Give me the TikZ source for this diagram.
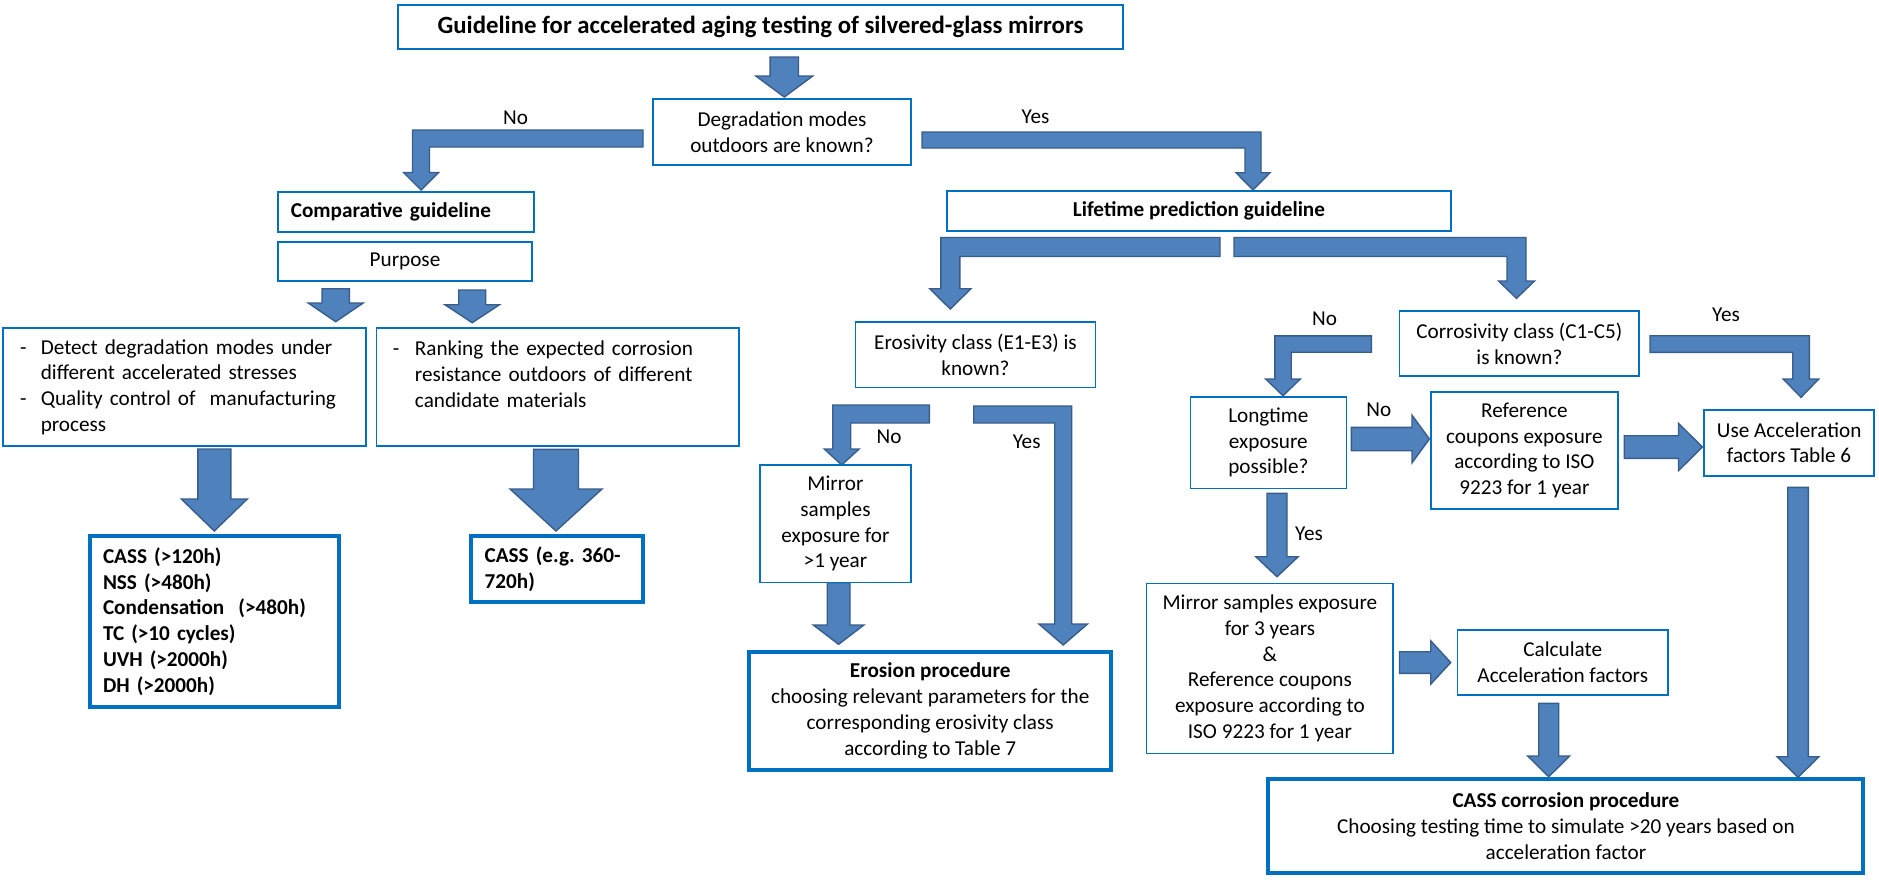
\documentclass[tikz,border=0pt]{standalone}
\usepackage{fontspec}
\setmainfont{Carlito}
\frenchspacing
\definecolor{boxblue}{RGB}{0,112,192}
\definecolor{arrfill}{RGB}{79,129,189}
\definecolor{arrline}{RGB}{56,93,138}
\newcommand{\basefont}{\fontsize{10.6}{12.85}\selectfont\frenchspacing}
\newcommand{\titlefont}{\fontsize{12.4}{15}\selectfont\bfseries}
\newcommand{\dsh}[1]{\makebox[#1][l]{-}}
% box: [opts]{name}{x1}{y1}{x2}{y2}{text}
\newcommand{\bx}[7][]{\node[box,#1,minimum width={(#5-#3)*0.5pt},minimum height={(#6-#4)*0.5pt}] (#2) at ({(#3+#5)/2},{(#4+#6)/2}) {#7};}
% vertical block arrow: xc, ytop, ytip, shaft half width, head half width, head length
\newcommand{\varr}[6]{\filldraw[arr] ({#1-#4},#2) -- ({#1+#4},#2) -- ({#1+#4},{#3-#6}) -- ({#1+#5},{#3-#6}) -- (#1,#3) -- ({#1-#5},{#3-#6}) -- ({#1-#4},{#3-#6}) -- cycle;}
% horizontal block arrow: yc, xleft, xtip, shaft hw, head hw, head length
\newcommand{\harr}[6]{\filldraw[arr] (#2,{#1-#4}) -- ({#3-#6},{#1-#4}) -- ({#3-#6},{#1-#5}) -- (#3,#1) -- ({#3-#6},{#1+#5}) -- ({#3-#6},{#1+#4}) -- (#2,{#1+#4}) -- cycle;}
% elbow block arrow: xstart, ybar, xcorner, ytip, hw, head hw, head len, sign
\newcommand{\elb}[8]{\filldraw[arr] (#1,{#2-#5}) -- ({#3+(#8)*(#5)},{#2-#5}) -- ({#3+(#8)*(#5)},{#4-#7}) -- ({#3+(#8)*(#6)},{#4-#7}) -- (#3,#4) -- ({#3-(#8)*(#6)},{#4-#7}) -- ({#3-(#8)*(#5)},{#4-#7}) -- ({#3-(#8)*(#5)},{#2+#5}) -- (#1,{#2+#5}) -- cycle;}
\begin{document}
\begin{tikzpicture}[x=0.5pt,y=-0.5pt,
  box/.style={draw=boxblue,line width=0.8pt,fill=white,inner sep=0pt,align=center,font=\basefont},
  tbox/.style={line width=2pt},
  lbox/.style={align=left,inner ysep=0pt},
  arr/.style={fill=arrfill,draw=arrline,line width=0.7pt,line join=miter},
  lbl/.style={font=\basefont,inner sep=0pt}]
\useasboundingbox (0,0) rectangle (1879,879);
\fill[white] (0,0) rectangle (1879,879);

% ---------- block arrows ----------
\varr{784.3}{57}{97}{14.2}{28.5}{21}
\elb{643}{138.5}{421}{190}{8.5}{17.5}{17.5}{-1}
\elb{922}{140}{1253}{190}{8}{17}{17.3}{1}
\varr{335.7}{288.7}{321.7}{13.7}{27.5}{18.7}
\varr{472.2}{290}{322.7}{13.5}{27.3}{18}
\varr{214.3}{449}{531}{16.5}{33}{32}
\varr{556}{449.3}{531}{22.5}{46}{42}
\elb{1220}{247}{950.3}{309}{9.5}{20.6}{20.3}{-1}
\elb{1234}{247}{1516.5}{298.3}{9.5}{18}{17.3}{1}
\elb{1371.4}{344}{1283}{395.7}{8.2}{17.3}{16.7}{-1}
\elb{1650}{344}{1801}{397.3}{8.3}{17.8}{18.3}{1}
\elb{929.3}{414}{841.7}{465}{9}{17.4}{16}{-1}
\elb{973.7}{414.5}{1063.2}{645}{8.5}{24.3}{21}{1}
\varr{838.6}{582.7}{644.3}{11.4}{25.3}{19.3}
\varr{1277}{493.3}{576.7}{10}{21.2}{20}
\varr{1548.7}{703.3}{776.7}{10}{21}{20.7}
\varr{1798}{487.3}{777.3}{10.3}{21}{20.6}
\harr{439}{1351.4}{1429.4}{11.7}{23.8}{17.4}
\harr{447}{1624.2}{1702.3}{11.3}{23.7}{23.8}
\harr{662.5}{1399.5}{1450.7}{10.8}{21.7}{20}

% ---------- boxes ----------
\bx[font=\titlefont]{title}{398}{5}{1123}{49}{Guideline for accelerated aging testing of silvered-glass mirrors}
\bx{degr}{653}{99}{911}{165}{Degradation modes\\outdoors are known?}
\bx[lbox,text width=115.2pt,inner xsep=6.4pt,font=\basefont\bfseries]{comp}{278}{192}{534}{232}{Comparative guideline}
\bx{purp}{278}{242}{532}{281}{Purpose}
\bx[lbox,text width=164.5pt,inner xsep=8.5pt]{detect}{3}{328}{366}{446}{\dsh{10.4pt}Detect degradation modes under\\\hspace*{10.4pt}different accelerated stresses\\\dsh{10.4pt}Quality control of\ \ manufacturing\\\hspace*{10.4pt}process}
\bx[lbox,text width=165pt,inner xsep=8.1pt]{rank}{376.5}{328}{739}{446}{\dsh{11.1pt}Ranking the expected corrosion\\\hspace*{11.1pt}resistance outdoors of different\\\hspace*{11.1pt}candidate materials\\\mbox{}}
\bx[tbox,lbox,text width=111.5pt,inner xsep=6.5pt,font=\basefont\bfseries]{casslist}{90}{536}{339}{707}{CASS (>120h)\\NSS (>480h)\\Condensation\ \ (>480h)\\TC (>10 cycles)\\UVH (>2000h)\\DH (>2000h)}
\bx[tbox,lbox,text width=72.3pt,inner xsep=7pt,font=\basefont\bfseries]{casseg}{470.6}{536}{643.3}{602.3}{CASS (e.g. 360-\\720h)}
\bx[font=\basefont\bfseries]{life}{947}{191}{1451}{231}{Lifetime prediction guideline}
\bx{eros}{855.5}{322}{1095.4}{387.3}{Erosivity class (E1-E3) is\\known?}
\bx{corr}{1399.5}{311}{1639.2}{376}{Corrosivity class (C1-C5)\\is known?}
\bx{long}{1190.3}{396.7}{1346.4}{488.3}{Longtime\\exposure\\possible?}
\bx{refc}{1430.7}{391.7}{1618}{509}{Reference\\coupons exposure\\according to ISO\\9223 for 1 year}
\bx{useacc}{1704.2}{410}{1874}{475.7}{Use Acceleration\\factors Table 6}
\bx{mirr}{760.2}{465}{910.7}{582.3}{Mirror\\samples\\exposure for\\>1 year}
\bx[tbox]{erosproc}{749.4}{651.7}{1111}{770}{\textbf{Erosion procedure}\\choosing relevant parameters for the\\corresponding erosivity class\\according to Table 7}
\bx{mirr3}{1146.6}{583.3}{1393.2}{753.3}{Mirror samples exposure\\for 3 years\\\&\\Reference coupons\\exposure according to\\ISO 9223 for 1 year}
\bx{calc}{1457.5}{630}{1668}{695}{Calculate\\Acceleration factors}
\bx[tbox]{cassproc}{1268.4}{779.3}{1863.4}{872.7}{\textbf{CASS corrosion procedure}\\Choosing testing time to simulate >20 years based on\\acceleration factor}

% ---------- labels ----------
\node[lbl] (l1) at (515.6,118) {No};
\node[lbl] (l2) at (1035.5,116.7) {Yes};
\node[lbl] (l3) at (1324.5,318.3) {No};
\node[lbl] (l4) at (1726,315) {Yes};
\node[lbl] (l5) at (889,436.7) {No};
\node[lbl] (l6) at (1026.7,441.7) {Yes};
\node[lbl] (l7) at (1378.9,410) {No};
\node[lbl] (l8) at (1309,533.3) {Yes};
\end{tikzpicture}
\end{document}
